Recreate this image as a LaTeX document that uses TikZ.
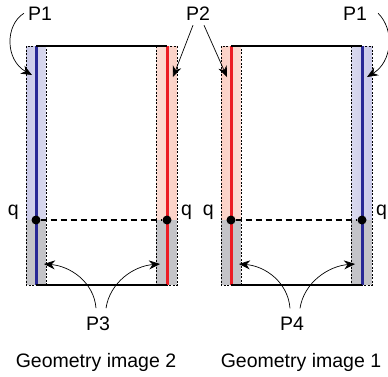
\documentclass[tikz,border=0pt]{standalone}
\usepackage{fontspec}
\setmainfont{Liberation Sans}
\usetikzlibrary{arrows.meta, calc}

\definecolor{lineblue}{RGB}{40,40,150}
\definecolor{linered}{RGB}{236,28,36}
\definecolor{shadeblue}{RGB}{160,160,214}
\definecolor{shadered}{RGB}{248,170,150}
\definecolor{cellgray}{RGB}{196,196,200}

\begin{document}
\begin{tikzpicture}[x=1pt, y=-1pt,
    every node/.style={font=\fontsize{19.5}{23}\selectfont, inner sep=0pt},
    edge/.style={line width=2.8pt, black},
    side/.style={line width=3pt},
    boxline/.style={line width=0.6pt, dash pattern=on 2pt off 1.5pt},
    qline/.style={line width=1.1pt, dash pattern=on 6pt off 4pt},
    dot/.style={circle, fill=black, minimum size=9pt},
    arr/.style={-{Stealth[length=11pt, width=9pt]}, line width=0.7pt}]
  \useasboundingbox (0,0) rectangle (388,376);

  % two geometry images, the second one shifted to the right
  \foreach \g/\dx/\lc/\ls/\rc/\rs in {a/0/lineblue/shadeblue/linered/shadered,
                                       b/195/linered/shadered/lineblue/shadeblue}{
    \begin{scope}[xshift=\dx]
      % shaded strips
      \shade[left color=\ls!55, middle color=\ls, right color=\ls!40] (26,46) rectangle (46,220);
      \shade[left color=\rs!40, middle color=\rs, right color=\rs!55] (156,46) rectangle (177,220);
      \fill[cellgray] (26,220) rectangle (46,285);
      \fill[cellgray] (156,220) rectangle (177,285);
      \draw[boxline] (26,46) rectangle (46,285);
      \draw[boxline] (156,46) rectangle (177,285);

      % sides
      \draw[side, \lc] (36,46) -- (36,285);
      \draw[side, \rc] (167,46) -- (167,285);

      % top and bottom
      \draw[edge] (36,46) -- (167,46);
      \draw[edge] (36,285) -- (167,285);

      % line q
      \node[dot] (\g l) at (36,220) {};
      \node[dot] (\g r) at (167,220) {};
      \draw[qline] (\g l) -- (\g r);
      \node[anchor=base east] (q\g l) at (19,215) {q};
      \node[anchor=base west] (q\g r) at (181,215) {q};

      % ends of the lower arrows
      \coordinate (t\g l) at (44,264);
      \coordinate (t\g r) at (160,264);
    \end{scope}
  }

  % labels
  \node[anchor=base] (P1a) at (40,20) {P1};
  \node[anchor=base] (P2) at (198,20) {P2};
  \node[anchor=base] (P1b) at (355,20) {P1};
  \node[anchor=base] (P3) at (98,330) {P3};
  \node[anchor=base] (P4) at (292,330) {P4};
  \node[anchor=base] (cap2) at (96,367) {Geometry image 2};
  \node[anchor=base] (cap1) at (301,367) {Geometry image 1};

  % upper arrows
  \coordinate (s1) at (32,75);
  \coordinate (s2) at (173,77);
  \coordinate (s3) at (227,77);
  \coordinate (s4) at (367,77);
  \draw[arr] ($(P1a.west)+(-4,0)$) .. controls (5,25) and (5,60) .. (s1);
  \draw[arr] ($(P2.south)+(-5,5)$) -- (s2);
  \draw[arr] ($(P2.south)+(6,5)$) -- (s3);
  \draw[arr] ($(P1b.east)+(11,0)$) .. controls (395,30) and (392,62) .. (s4);

  % lower arrows
  \draw[arr] ($(P3.north)+(-2,-8)$) .. controls (94,282) and (70,266) .. (tal);
  \draw[arr] ($(P3.north)+(8,-8)$) .. controls (110,282) and (134,266) .. (tar);
  \draw[arr] ($(P4.north)+(-2,-8)$) .. controls (288,282) and (265,266) .. (tbl);
  \draw[arr] ($(P4.north)+(8,-8)$) .. controls (304,282) and (329,266) .. (tbr);
\end{tikzpicture}
\end{document}
